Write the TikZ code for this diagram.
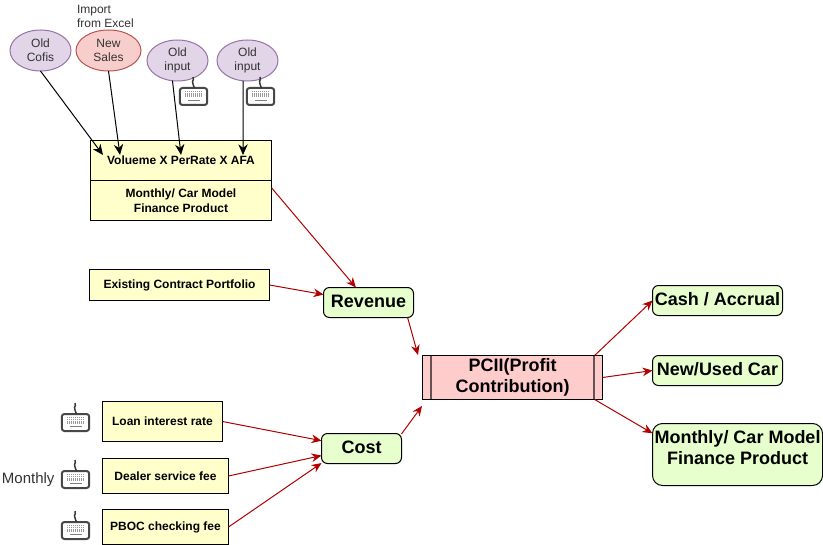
\documentclass[tikz,border=0pt]{standalone}
\usepackage{fontspec}
\setmainfont{Liberation Sans}
\usetikzlibrary{arrows.meta,shapes.geometric}
\definecolor{lav}{HTML}{E1D5E7}
\definecolor{lavb}{HTML}{9673A6}
\definecolor{rosef}{HTML}{F8CECC}
\definecolor{roseb}{HTML}{B85450}
\definecolor{yel}{HTML}{FFFFCC}
\definecolor{grn}{HTML}{E6FFCC}
\definecolor{pk}{HTML}{FFCCCC}
\definecolor{dred}{HTML}{B20000}
\definecolor{txtg}{HTML}{333333}
\tikzset{
  x=0.75pt,y=-0.75pt,
  every node/.style={inner sep=0pt,outer sep=0pt,align=center},
  box/.style={draw=black,line width=.75pt,fill=yel,font=\fontsize{9}{11.25}\selectfont\bfseries},
  oval/.style={ellipse,draw=lavb,fill=lav,line width=.75pt,font=\fontsize{9}{10.5}\selectfont,text=txtg},
  ovalr/.style={oval,draw=roseb,fill=rosef},
  gbox/.style={draw=black,fill=grn,line width=.75pt,rounded corners=4.5pt,font=\fontsize{13.5}{15.75}\selectfont\bfseries},
  note/.style={font=\fontsize{9}{10.5}\selectfont,text=txtg},
  blk/.style={draw=black,line width=.75pt,-{Stealth[length=8pt,width=7pt]}},
  redarrow/.style={draw=dred,line width=.75pt,-{Stealth[length=7.5pt,width=6.5pt]}},
  kbd/.pic={
    \draw[line width=1.5pt,draw=black!72,fill=white,rounded corners=2pt] (0.8,11) rectangle (28.2,28);
    \draw[line width=1.1pt,draw=black!78] (15.5,11) .. controls (15.5,7.5) and (12.5,7.5) .. (13.5,4.5) .. controls (14,3) and (15,2.5) .. (14,0);
    \foreach \r in {14.5,16.3,18.1,19.9}{\draw[line width=.9pt,draw=black!40,dash pattern=on 0.75pt off 0.75pt] (6,\r) -- (24,\r);}
    \draw[line width=1.2pt,draw=black!50] (9,23.5) -- (21,23.5);
  }
}
\begin{document}
\begin{tikzpicture}
\useasboundingbox[fill=white] (0,0) rectangle (823,545);
% ovals
\node[oval,minimum width=45.75pt,minimum height=30.75pt] (cofis) at (40.5,50.5) {Old\\Cofis};
\node[ovalr,minimum width=48.75pt,minimum height=30.75pt] (sales) at (108.5,50.5) {New\\Sales};
\node[oval,minimum width=45.75pt,minimum height=30.75pt] (inA) at (177.5,60.5) {Old\\input};
\node[oval,minimum width=45.75pt,minimum height=30.75pt] (inB) at (247.5,60.5) {Old\\input};
\node[note,anchor=west,align=left] (imp) at (77,16.5) {Import\\from Excel};
% volume box
\node[box,minimum width=135.75pt,minimum height=30pt] (vol) at (181,160.5) {Volueme X PerRate X AFA};
\node[box,minimum width=135.75pt,minimum height=30pt] (mon) at (181,200.5) {Monthly/ Car Model\\Finance Product};
% keyboards
\pic at (179,77) {kbd};
\pic at (246,77) {kbd};
\pic at (61,403) {kbd};
\pic at (61,460) {kbd};
\pic at (61,511) {kbd};
\node[font=\fontsize{11.25}{12}\selectfont,text=txtg,anchor=east] (mly) at (54.5,480) {Monthly};
% left boxes
\node[box,minimum width=135pt,minimum height=23.25pt] (exist) at (179.5,285) {Existing Contract Portfolio};
\node[box,minimum width=90pt,minimum height=30pt] (loan) at (162.5,421.5) {Loan interest rate};
\node[box,minimum width=94.5pt,minimum height=26.25pt] (deal) at (165.5,476) {Dealer service fee};
\node[box,minimum width=94.5pt,minimum height=26.25pt] (pboc) at (165.5,527) {PBOC checking fee};
% middle
\node[gbox,minimum width=67.5pt,minimum height=22.5pt] (rev) at (368.5,302.5) {\raisebox{2.25pt}{Revenue}};
\node[gbox,minimum width=60pt,minimum height=22.5pt] (cost) at (361.5,448.5) {\raisebox{2.25pt}{Cost}};
\node[draw=black,fill=pk,line width=.75pt,minimum width=135pt,minimum height=33pt,font=\fontsize{13.5}{15.75}\selectfont\bfseries] (pcii) at (512.5,377.5) {\raisebox{-1.5pt}{\begin{tabular}{@{}c@{}}PCII(Profit\\[0.1pt]Contribution)\end{tabular}}};
\draw[draw=black!60!pk,line width=1.1pt] ([xshift=6.4pt]pcii.north west) -- ([xshift=6.4pt]pcii.south west) ([xshift=-6.4pt]pcii.north east) -- ([xshift=-6.4pt]pcii.south east);
\draw[line width=.75pt] (pcii.north west) rectangle (pcii.south east);
% right
\node[gbox,minimum width=97.5pt,minimum height=22.5pt] (cash) at (717.5,300.5) {\raisebox{3pt}{Cash / Accrual}};
\node[gbox,minimum width=97.5pt,minimum height=22.5pt] (newc) at (717.5,370.5) {\raisebox{2.25pt}{New/Used Car}};
\node[gbox,minimum width=127.5pt,minimum height=46.5pt,rounded corners=7.5pt] (mcar) at (737.5,454.5) {\raisebox{19.5pt}{\begin{tabular}{@{}c@{}}Monthly/ Car Model\\[0.1pt]Finance Product\end{tabular}}};
% free connector ends
\coordinate (t1) at (103,155);
\coordinate (t2) at (120,155);
\coordinate (t3) at (181,155);
\coordinate (t4) at (243,155);
\coordinate (r5) at (418,355);
\coordinate (c8) at (422,406);
\draw[blk] (cofis.south) -- (t1);
\draw[blk] (sales.south) -- (t2);
\draw[blk] (inA.256) -- (t3);
\draw[blk] (inB.258) -- (t4);
\draw[redarrow] (mon.8.5) -- (rev.130);
\draw[redarrow] (exist.east) -- (rev.170);
\draw[redarrow] (rev.-21) -- (r5);
\draw[redarrow] (loan.east) -- (cost.169);
\draw[redarrow] (deal.east) -- (cost.190.6);
\draw[redarrow] (pboc.east) -- (cost.200);
\draw[redarrow] (cost.20.6) -- (c8);
\draw[redarrow] (pcii.15.5) -- (cash.west);
\draw[redarrow] (pcii.east) -- (newc.west);
\draw[redarrow] (pcii.-15.5) -- (mcar.166);
\end{tikzpicture}
\end{document}
